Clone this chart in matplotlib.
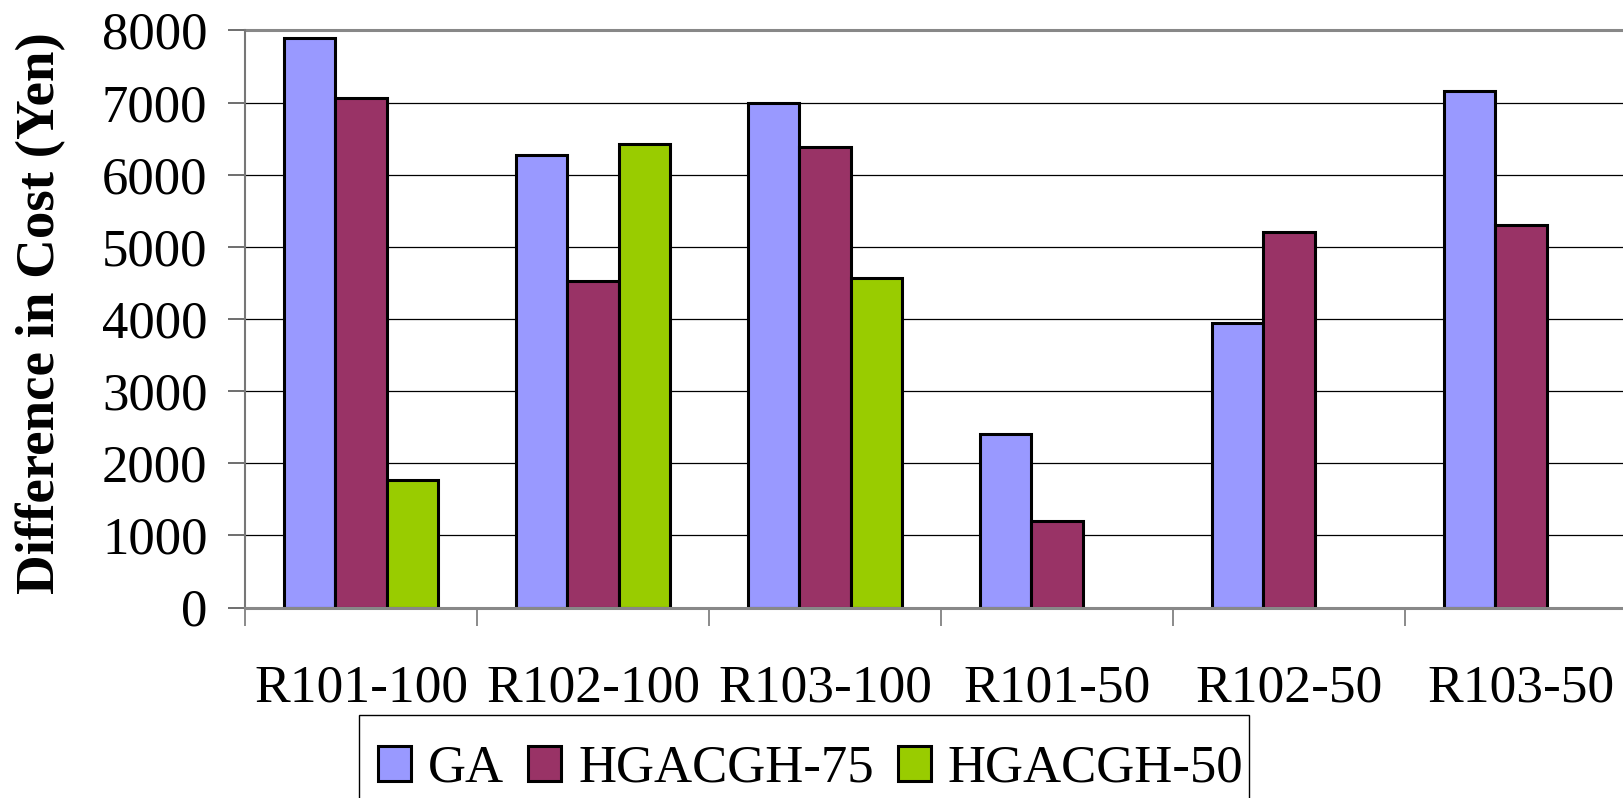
import matplotlib
matplotlib.use("Agg")
import matplotlib.pyplot as plt
import numpy as np
from matplotlib.patches import Patch, Rectangle

categories = ["R101-100", "R102-100", "R103-100", "R101-50", "R102-50", "R103-50"]
series_names = ["GA", "HGACGH-75", "HGACGH-50"]
ga = [7900, 6280, 6990, 2410, 3950, 7160]
hgacgh_75 = [7060, 4520, 6380, 1200, 5210, 5300]
hgacgh_50 = [1770, 6420, 4570, 0, 0, 0]
colors = ["#9999FF", "#993366", "#99CC00"]
yticks = [0, 1000, 2000, 3000, 4000, 5000, 6000, 7000, 8000]

plt.rcParams["font.family"] = ["Liberation Serif", "DejaVu Serif"]

W, H = 1623, 798
fig = plt.figure(figsize=(W / 100, H / 100), dpi=100)
left, right, bottom, top = 245, 1637, 607.5, 30.5
ax = fig.add_axes([left / W, 1 - bottom / H, (right - left) / W, (bottom - top) / H])

n_cat = len(categories)
n_ser = len(series_names)
gap = 1.5
bw = 1.0 / (n_ser + gap)
x0 = np.arange(n_cat)
for i, (vals, col) in enumerate(zip([ga, hgacgh_75, hgacgh_50], colors)):
    xs = x0 + gap / 2 * bw + i * bw + bw / 2
    for x, v in zip(xs, vals):
        if v > 0:
            ax.bar(x, v, width=bw, color=col, edgecolor="black", linewidth=2.2, zorder=3)

ax.set_xlim(0, n_cat)
ax.set_ylim(0, 8000)

# horizontal gridlines
for y in yticks[1:-1]:
    ax.axhline(y, color="black", linewidth=0.9, zorder=1)
ax.axhline(8000, color="#888888", linewidth=2.2, zorder=1, clip_on=False)

for s in ["top", "right"]:
    ax.spines[s].set_visible(False)
ax.spines["left"].set_color("#777777")
ax.spines["left"].set_linewidth(1.5)
ax.spines["bottom"].set_color("#888888")
ax.spines["bottom"].set_linewidth(2.2)
ax.spines["bottom"].set_zorder(4)

ax.set_yticks(yticks)
ax.set_yticklabels([str(t) for t in yticks], fontsize=38)
ax.tick_params(axis="y", direction="out", length=12, width=1.2, color="#555555", pad=15)

# category boundaries as ticks, labels centred in each category
ax.set_xticks(np.arange(n_cat + 1))
ax.set_xticklabels([])
ax.set_xticks(x0 + 0.5, minor=True)
ax.set_xticklabels(categories, minor=True, fontsize=38.5)
ax.tick_params(axis="x", which="major", direction="out", length=13, width=1.2, color="#777777")
ax.tick_params(axis="x", which="minor", length=0, pad=41)

fig.text(41 / W, 1 - 313 / H, "Difference in Cost (Yen)", rotation=90,
         ha="center", va="center", fontsize=39.5, fontweight="bold")

# legend box frame, running off the bottom edge
fig.patches.append(Rectangle((359 / W, -0.05), (1249 - 359) / W, 0.05 + 1 - 715 / H,
                             transform=fig.transFigure, fill=False,
                             edgecolor="black", linewidth=1.0))
handles = [Patch(facecolor=c, edgecolor="black", linewidth=2.2) for c in colors]
leg = fig.legend(handles, series_names, loc="center left",
                 bbox_to_anchor=(378 / W, 1 - 769 / H), ncol=3, fontsize=38,
                 frameon=False, handlelength=0.63, handleheight=0.63,
                 handletextpad=0.32, columnspacing=0.45, borderpad=0,
                 borderaxespad=0)

fig.savefig("out.png", dpi=100)
